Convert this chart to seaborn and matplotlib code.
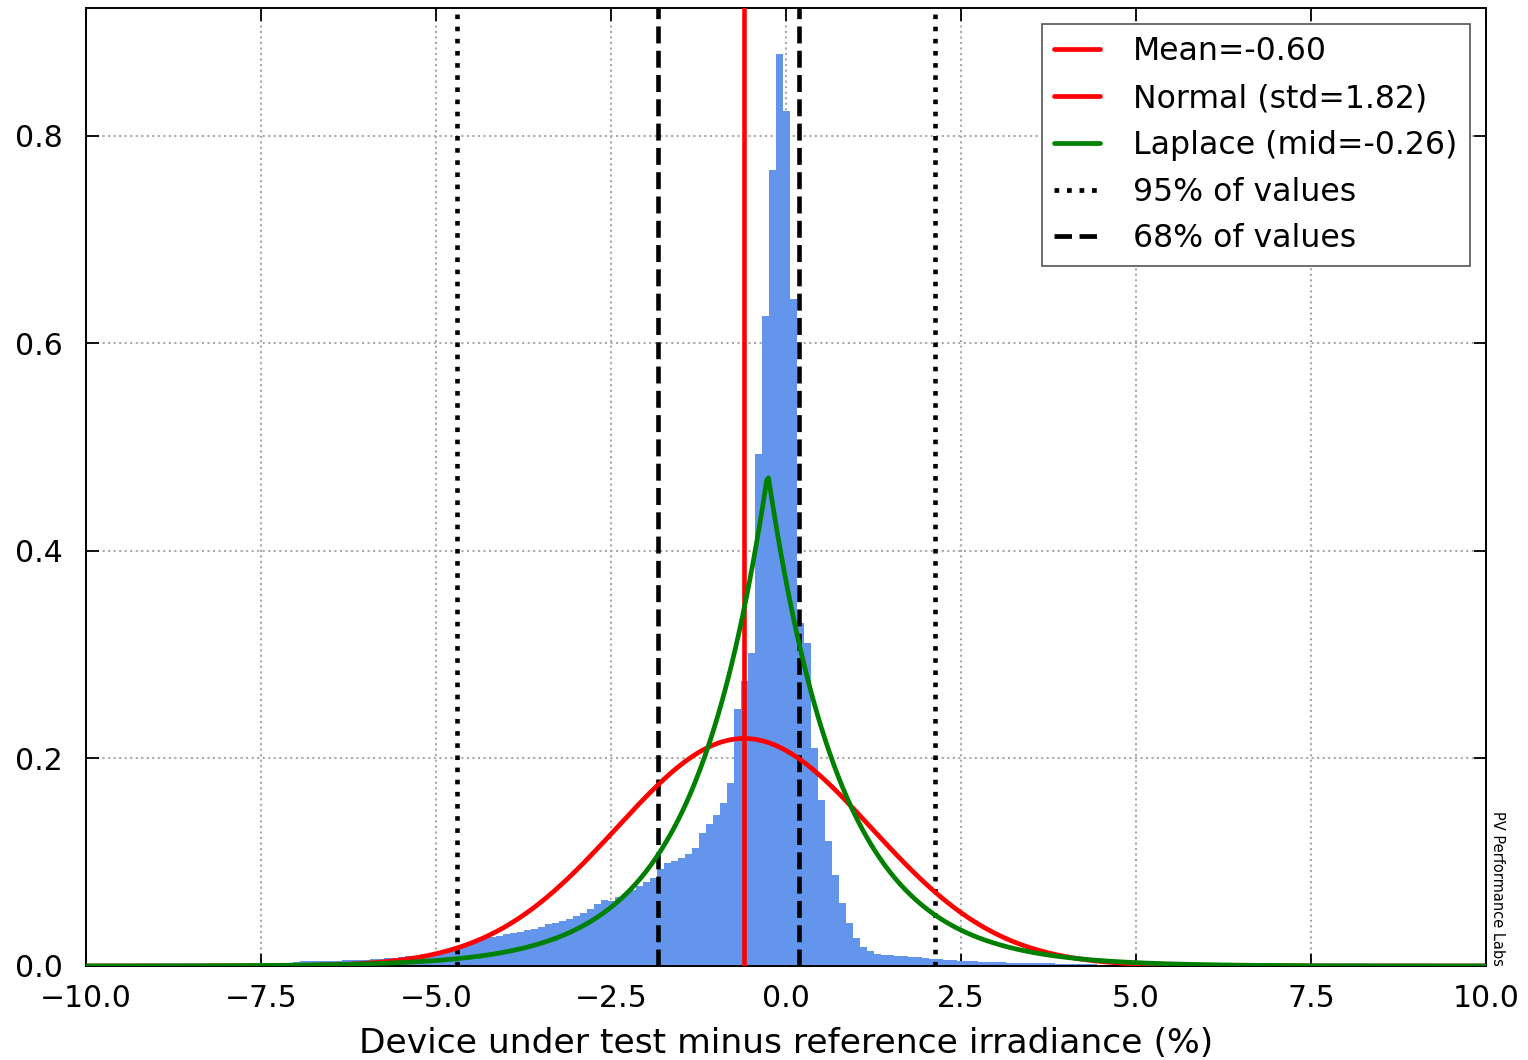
import matplotlib
matplotlib.use("Agg")
import matplotlib.pyplot as plt
import numpy as np
import pandas as pd
import seaborn as sns
from matplotlib.lines import Line2D

# histogram: density per 0.1 % bin, first bin centred on -7.5
bin_width = 0.1
first_center = -7.5
heights = [
    0.002, 0.002, 0.003, 0.003, 0.003,                                  # -7.5 .. -7.1
    0.004, 0.005, 0.005, 0.005, 0.005, 0.005, 0.005, 0.006, 0.006, 0.006,  # -7.0 .. -6.1
    0.006, 0.007, 0.007, 0.008, 0.008, 0.009, 0.010, 0.010, 0.011, 0.012,  # -6.0 .. -5.1
    0.013, 0.014, 0.016, 0.018, 0.020, 0.022, 0.025, 0.027, 0.028, 0.029,  # -5.0 .. -4.1
    0.031, 0.032, 0.033, 0.035, 0.036, 0.038, 0.040, 0.041, 0.043, 0.045,  # -4.0 .. -3.1
    0.048, 0.051, 0.055, 0.060, 0.064, 0.063, 0.066, 0.069, 0.073, 0.077,  # -3.0 .. -2.1
    0.081, 0.085, 0.093, 0.099, 0.101, 0.104, 0.108, 0.114, 0.128, 0.137,  # -2.0 .. -1.1
    0.145, 0.157, 0.176, 0.248, 0.275, 0.302, 0.493, 0.626, 0.767, 0.879,  # -1.0 .. -0.1
    0.824, 0.643, 0.330, 0.311, 0.210, 0.160, 0.120, 0.088, 0.061, 0.041,  # 0.0 .. 0.9
    0.027, 0.018, 0.014, 0.012, 0.011, 0.011, 0.010, 0.010, 0.009, 0.009,  # 1.0 .. 1.9
    0.008, 0.007, 0.007, 0.006, 0.006, 0.005, 0.005, 0.005, 0.004, 0.004,  # 2.0 .. 2.9
    0.004, 0.004, 0.003, 0.003, 0.003, 0.003, 0.003, 0.003, 0.003, 0.002,  # 3.0 .. 3.9
    0.002, 0.002, 0.002, 0.002, 0.002, 0.001, 0.001, 0.001, 0.001, 0.001,  # 4.0 .. 4.9
    0.001,                                                                 # 5.0
]

mean_value = -0.60
normal_std = 1.82
laplace_mid = -0.26
laplace_scale = 1.053
p95_bounds = [-4.70, 2.13]
p68_bounds = [-1.83, 0.19]

centers = first_center + bin_width * np.arange(len(heights))
edges = first_center - bin_width / 2 + bin_width * np.arange(len(heights) + 1)
hist_df = pd.DataFrame({"diff": centers, "density": heights})

xs = np.linspace(-10, 10, 801)
normal_pdf = np.exp(-0.5 * ((xs - mean_value) / normal_std) ** 2) / (normal_std * np.sqrt(2 * np.pi))
laplace_pdf = np.exp(-np.abs(xs - laplace_mid) / laplace_scale) / (2 * laplace_scale)

sns.set_theme(style="white", rc={
    "xtick.direction": "in",
    "ytick.direction": "in",
    "xtick.top": True,
    "ytick.right": True,
    "xtick.bottom": True,
    "ytick.left": True,
    "xtick.major.size": 9,
    "ytick.major.size": 9,
    "xtick.major.width": 1.3,
    "ytick.major.width": 1.3,
    "axes.edgecolor": "black",
    "axes.linewidth": 1.4,
    "text.color": "black",
    "axes.labelcolor": "black",
    "xtick.color": "black",
    "ytick.color": "black",
})
plt.rcParams["font.family"] = ["DejaVu Sans"]

fig = plt.figure(figsize=(15.28, 10.6), dpi=100)
ax = fig.add_axes([0.0563, 0.0887, 0.9162, 0.9038])

sns.histplot(data=hist_df, x="diff", weights="density", bins=list(edges), stat="count",
             color="#6495ED", alpha=1.0, linewidth=0, ax=ax)

ax.axvline(mean_value, color="red", lw=3.3, zorder=4)
sns.lineplot(x=xs, y=normal_pdf, color="red", lw=3.4, ax=ax, zorder=5)
sns.lineplot(x=xs, y=laplace_pdf, color="green", lw=3.4, ax=ax, zorder=5)
for b in p95_bounds:
    ax.axvline(b, color="black", lw=3.3, ls=":", zorder=4)
for b in p68_bounds:
    ax.axvline(b, color="black", lw=3.3, ls="--", zorder=4)

ax.set_xlim(-10, 10)
ax.set_ylim(0, 0.923)
ax.set_xticks(np.arange(-10, 10.1, 2.5))
ax.set_xticklabels([f"{t:.1f}".replace("-", "\u2212") for t in np.arange(-10, 10.1, 2.5)])
ax.set_yticks([0.0, 0.2, 0.4, 0.6, 0.8])
ax.set_yticklabels(["0.0", "0.2", "0.4", "0.6", "0.8"])
ax.tick_params(axis="x", labelsize=21.5, pad=13)
ax.tick_params(axis="y", labelsize=21.5, pad=17)
ax.grid(True, ls=":", color="#a8a8a8", lw=1.5)
ax.set_axisbelow(True)
ax.set_ylabel("")
ax.set_xlabel("Device under test minus reference irradiance (%)", fontsize=24.8, labelpad=10)

handles = [
    Line2D([], [], color="red", lw=3.4),
    Line2D([], [], color="red", lw=3.4),
    Line2D([], [], color="green", lw=3.4),
    Line2D([], [], color="black", lw=3.4, ls=":"),
    Line2D([], [], color="black", lw=3.4, ls="--"),
]
labels = [
    f"Mean={mean_value:.2f}",
    f"Normal (std={normal_std:.2f})",
    f"Laplace (mid={laplace_mid:.2f})",
    "95% of values",
    "68% of values",
]
leg = ax.legend(handles, labels, loc="upper right", fontsize=22.7, fancybox=False,
                framealpha=1, edgecolor="#555555", handlelength=1.45, handletextpad=1.05,
                borderaxespad=0.52, labelspacing=0.5, borderpad=0.38)
leg.get_frame().set_linewidth(1.2)

ax.text(1.003, 0.0, "PV Performance Labs", transform=ax.transAxes, rotation=270,
        ha="left", va="bottom", fontsize=10.5)

fig.savefig("out.png", dpi=100)
